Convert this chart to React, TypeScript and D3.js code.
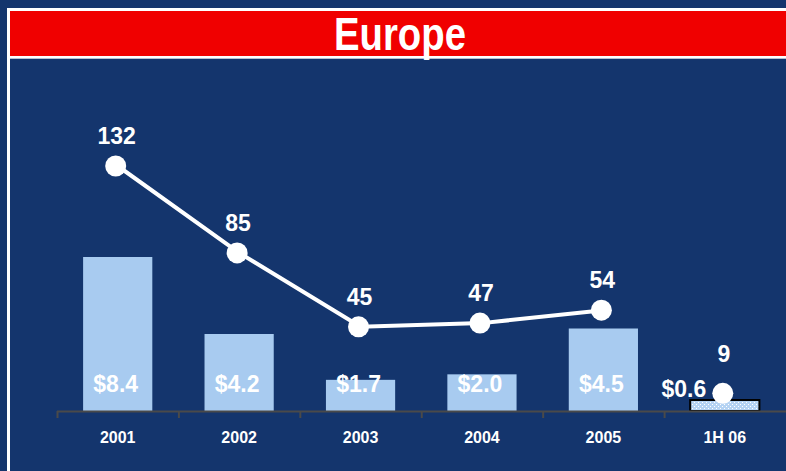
import React from "react";
import * as d3 from "d3";

const categories = ["2001", "2002", "2003", "2004", "2005", "1H 06"];
const barValues = [8.4, 4.2, 1.7, 2.0, 4.5, 0.6];
const barLabels = ["$8.4", "$4.2", "$1.7", "$2.0", "$4.5", "$0.6"];
const lineValues = [132, 85, 45, 47, 54, 9];
const title = "Europe";

const W = 786;
const H = 471;
const NAVY = "#14356d";
const BAR = "#a8cbf0";
const RED = "#f00000";

export default function App() {
  const baseY = 411;
  const x = d3.scaleBand<string>().domain(categories).range([57, 785.5]).padding(0);
  const yBar = d3.scaleLinear().domain([0, 8.4]).range([baseY, 257]);
  const yLine = d3.scaleLinear().domain([0, 132]).range([baseY - 1, 166]);
  const bw = x.bandwidth() * 0.57;
  const cx = (c: string) => (x(c) as number) + x.bandwidth() / 2;
  const lastIdx = categories.length - 1;
  const lineCats = categories.slice(0, lastIdx);
  const line = d3
    .line<number>()
    .x((_, i) => cx(lineCats[i]))
    .y((d) => yLine(d));
  const font = "'Liberation Sans', Arial, sans-serif";

  return (
    <svg
      width={W}
      height={H}
      style={{ position: "absolute", left: 0, top: 0, display: "block" }}
    >
      <defs>
        <pattern id="hatch" width="4" height="4" patternUnits="userSpaceOnUse">
          <rect width="4" height="4" fill="#b5d3f3" />
          <rect x="0" y="0" width="1" height="1" fill="#ffffff" />
          <rect x="2" y="2" width="1" height="1" fill="#ffffff" />
        </pattern>
      </defs>
      <rect x={0} y={0} width={W} height={H} fill={NAVY} />
      {/* frame */}
      <rect x={7} y={8} width={W} height={H} fill="#ffffff" />
      <rect x={10} y={11} width={W} height={45} fill={RED} />
      <rect x={10} y={56} width={W} height={2} fill="#ffffff" />
      <rect x={10} y={58} width={W} height={1} fill="#b8c2d4" />
      <rect x={10} y={59} width={W} height={H} fill={NAVY} />
      <text
        x={400}
        y={50}
        textAnchor="middle"
        fill="#ffffff"
        fontFamily={font}
        fontWeight="bold"
        fontSize={47}
        textLength={132}
        lengthAdjust="spacingAndGlyphs"
      >
        {title}
      </text>

      {/* bars */}
      {categories.map((c, i) => {
        const last = i === lastIdx;
        return (
          <rect
            key={c}
            x={cx(c) - bw / 2}
            y={yBar(barValues[i])}
            width={bw}
            height={baseY - yBar(barValues[i])}
            fill={last ? "url(#hatch)" : BAR}
            stroke={last ? "#000000" : "none"}
            strokeWidth={last ? 2 : 0}
          />
        );
      })}

      {/* axis */}
      <line x1={57} x2={W} y1={baseY + 0.5} y2={baseY + 0.5} stroke="#4a4a4a" strokeWidth={2} />
      {categories.map((c) => (
        <line
          key={"t" + c}
          x1={(x(c) as number) + 0.5}
          x2={(x(c) as number) + 0.5}
          y1={baseY}
          y2={baseY + 7}
          stroke="#4a4a4a"
          strokeWidth={2}
        />
      ))}
      {categories.map((c) => (
        <text
          key={"l" + c}
          x={cx(c)}
          y={443}
          textAnchor="middle"
          fill="#ffffff"
          fontFamily={font}
          fontWeight="bold"
          fontSize={16}
        >
          {c}
        </text>
      ))}

      {/* bar labels */}
      {categories.map((c, i) => {
        const last = i === lastIdx;
        return (
          <text
            key={"b" + c}
            x={last ? cx(c) - 41 : cx(c) - 2}
            y={last ? 397 : 392}
            textAnchor="middle"
            fill="#ffffff"
            fontFamily={font}
            fontWeight="bold"
            fontSize={23}
          >
            {barLabels[i]}
          </text>
        );
      })}

      {/* line */}
      <path
        d={line(lineValues.slice(0, lastIdx)) || ""}
        fill="none"
        stroke="#ffffff"
        strokeWidth={4}
      />
      {categories.map((c, i) => (
        <circle key={"p" + c} cx={cx(c) - 2} cy={yLine(lineValues[i])} r={10.5} fill="#ffffff" />
      ))}
      {categories.map((c, i) => (
        <text
          key={"v" + c}
          x={cx(c) - 1}
          y={yLine(lineValues[i]) - (i === lastIdx ? 31 : 22)}
          textAnchor="middle"
          fill="#ffffff"
          fontFamily={font}
          fontWeight="bold"
          fontSize={23}
        >
          {lineValues[i]}
        </text>
      ))}
    </svg>
  );
}
